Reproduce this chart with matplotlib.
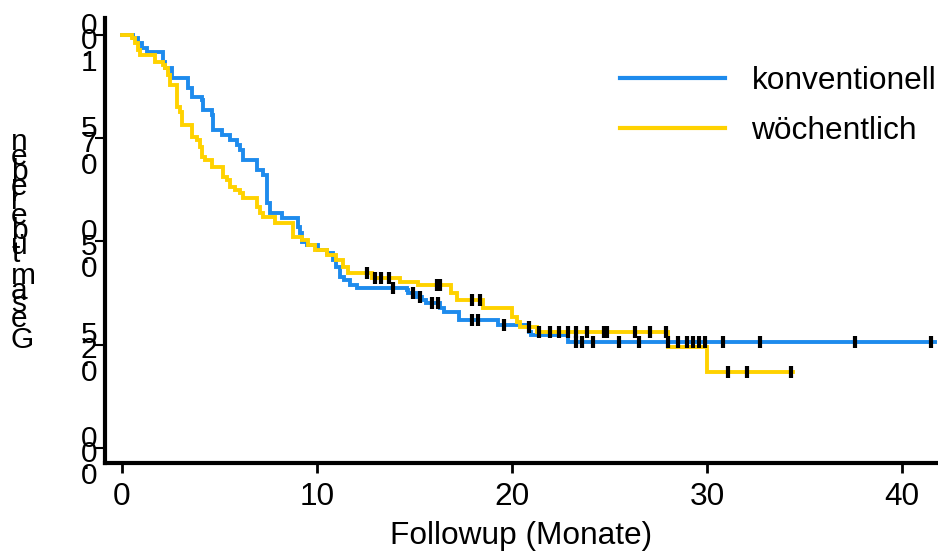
import numpy as np
import matplotlib
matplotlib.use("Agg")
import matplotlib.pyplot as plt
import matplotlib.transforms as mtransforms
from matplotlib import font_manager, ft2font

# Kaplan-Meier steps (time in months, survival after the step)
blue_t = [0, 0.56, 0.82, 1.03, 1.28, 2.1, 2.2, 2.56, 3.38, 3.59, 4.1, 4.15, 4.6, 4.67, 5.13,
          5.54, 5.9, 6.05, 6.2, 6.92, 7.23, 7.44, 7.59, 8.2, 9.03, 9.13, 9.23, 9.49, 10.05, 10.5,
          10.8, 11.0, 11.2, 11.4, 11.7, 12.05, 14.6, 14.67, 15.1, 15.4, 15.6, 16.3, 16.5, 17.3, 19.3,
          20.9, 21.0, 22.9, 41.7]
blue_s = [1, 0.993, 0.981, 0.969, 0.959, 0.935, 0.92, 0.896, 0.872, 0.85, 0.843, 0.818, 0.806, 0.77, 0.758,
          0.746, 0.734, 0.722, 0.697, 0.673, 0.661, 0.593, 0.569, 0.557, 0.535, 0.521, 0.499, 0.492, 0.479, 0.472,
          0.455, 0.438, 0.414, 0.407, 0.395, 0.387, 0.383, 0.375, 0.366, 0.358, 0.351, 0.339, 0.329, 0.31, 0.298,
          0.281, 0.274, 0.257, 0.257]
blue_cens = [13.9, 14.9, 15.3, 15.9, 16.2, 17.95, 18.25, 19.6, 23.3, 23.6, 24.15, 25.5, 26.5, 28.0,
             28.5, 29.0, 29.3, 29.6, 29.9, 30.8, 32.7, 37.6, 41.5]

yel_t = [0, 0.51, 0.67, 0.82, 0.92, 1.69, 2.10, 2.21, 2.36, 2.46, 2.82, 2.97, 3.08, 3.59, 3.85,
         4.0, 4.1, 4.26, 4.62, 5.18, 5.38, 5.54, 5.79, 6.05, 6.2, 6.92, 7.08, 7.23, 7.85, 8.77,
         9.23, 9.54, 9.9, 10.5, 11.0, 11.33, 11.6, 12.8, 14.26, 15.18, 16.9, 17.2, 18.5, 20.0, 20.26,
         20.4, 21.3, 28.0, 30.0, 34.4]
yel_s = [1, 0.993, 0.981, 0.964, 0.952, 0.935, 0.927, 0.92, 0.903, 0.879, 0.826, 0.814, 0.782, 0.753, 0.746,
         0.729, 0.705, 0.697, 0.68, 0.656, 0.649, 0.632, 0.625, 0.617, 0.605, 0.584, 0.569, 0.56, 0.545, 0.511,
         0.504, 0.492, 0.479, 0.467, 0.455, 0.438, 0.424, 0.412, 0.402, 0.395, 0.375, 0.358, 0.339, 0.317, 0.305,
         0.293, 0.28, 0.245, 0.184, 0.184]
yel_cens = [12.55, 13.0, 13.3, 13.7, 16.15, 16.3, 17.95, 18.35, 20.9, 21.4, 21.95, 22.4, 22.9, 23.3,
            23.85, 24.7, 24.9, 26.3, 27.1, 27.9, 31.1, 32.05, 34.3]

labels = ["konventionell", "wöchentlich"]
colors = ["#1e8bed", "#ffd200"]
xticks = [0, 10, 20, 30, 40]
yticks = [0.0, 0.25, 0.5, 0.75, 1.0]
ytick_labels = ["0.00", "0.25", "0.50", "0.75", "1.00"]
ylabel = "Gesamtüberleben"
xlabel = "Followup (Monate)"

plt.rcParams["font.family"] = ["Liberation Sans", "DejaVu Sans"]
FS = 22.8
SFS = 21.5      # glyph size of the stacked texts
ADV_PX = 26.8   # em used for their vertical advance, in pixels

fig = plt.figure(figsize=(9.38, 5.51), dpi=100)
W, H = 938, 551
ax = fig.add_axes([105 / W, 1 - 463 / H, (W - 105) / W, (463 - 18) / H])


def at(ts, ss, cs):
    ts = np.asarray(ts)
    idx = np.searchsorted(ts, cs, side="right") - 1
    return np.asarray(ss)[idx]


lines = []
for t, s, col, lab in [(blue_t, blue_s, colors[0], labels[0]),
                       (yel_t, yel_s, colors[1], labels[1])]:
    ln, = ax.step(t, s, where="post", color=col, lw=2.8, label=lab, solid_joinstyle="miter")
    lines.append(ln)
for t, s, c in [(blue_t, blue_s, blue_cens), (yel_t, yel_s, yel_cens)]:
    ax.plot(c, at(t, s, c), ls="none", marker="|", color="black", ms=9, mew=3, zorder=5)

ax.set_xlim(-0.87, 41.85)
ax.set_ylim(-0.0363, 1.041)
ax.set_xticks(xticks)
ax.set_yticks(yticks)
ax.set_yticklabels([])
ax.tick_params(axis="x", direction="out", length=7, width=2, labelsize=FS, pad=6.5)
ax.tick_params(axis="y", direction="out", length=7, width=1.5)
for sp in ["top", "right"]:
    ax.spines[sp].set_visible(False)
for sp in ["left", "bottom"]:
    ax.spines[sp].set_linewidth(3)
ax.set_xlabel(xlabel, fontsize=FS, labelpad=7)

leg = ax.legend(handles=lines, loc="upper left", bbox_to_anchor=(620 / W, 1 - 66 / H),
                bbox_transform=fig.transFigure, frameon=False, fontsize=FS,
                handlelength=3.3, handletextpad=0.85, labelspacing=0.64, borderpad=0, borderaxespad=0)
for lh in leg.get_lines():
    lh.set_linewidth(3)

# stacked upright characters, as in the original rendering
fp = font_manager.FontProperties(family="Liberation Sans")
font = ft2font.FT2Font(font_manager.findfont(fp))
font.set_size(72, 72)


def adv(ch):
    g = font.load_char(ord(ch))
    return g.linearHoriAdvance / 65536.0 / 72 * ADV_PX


def stacked(s, x, y):
    for ch in s:
        fig.text(x, y, ch, transform=mtransforms.IdentityTransform(), fontsize=SFS,
                 ha="left", va="baseline")
        y += adv(ch)


fig.canvas.draw()
for v, lab in zip(yticks, ytick_labels):
    _, yd = ax.transData.transform((0, v))
    stacked(lab, 81, yd - 36)
stacked(ylabel, 11, H - 348)

fig.savefig("out.png", dpi=100)
